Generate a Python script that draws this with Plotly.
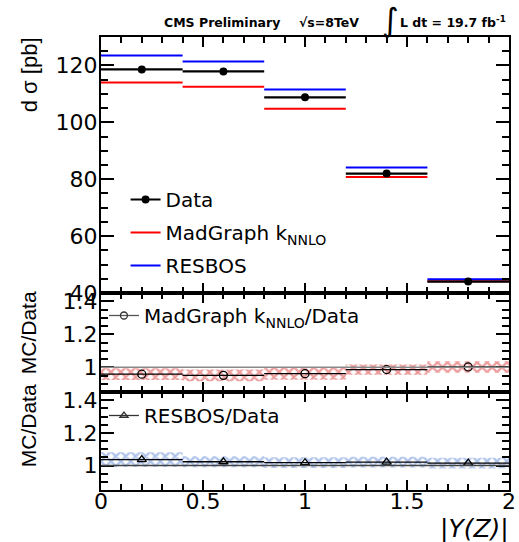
import plotly.graph_objects as go

# ---------------- data ----------------
bin_edges = [0.0, 0.4, 0.8, 1.2, 1.6, 2.0]
data_xsec = [118.6, 117.9, 108.8, 82.0, 44.0]
madgraph_xsec = [114.0, 112.5, 104.8, 80.8, 44.1]
resbos_xsec = [123.5, 121.4, 111.5, 84.1, 44.8]

ratio_madgraph = [0.958, 0.951, 0.961, 0.986, 1.002]
ratio_madgraph_unc = [0.036, 0.036, 0.036, 0.031, 0.035]
ratio_resbos = [1.036, 1.023, 1.017, 1.021, 1.015]
ratio_resbos_unc = [0.045, 0.033, 0.033, 0.033, 0.033]
reference_level = 1.0

x_ticks = [0, 0.5, 1, 1.5, 2]
x_ticktext = ["0", "0.5", "1", "1.5", "2"]
main_ticks = [40, 60, 80, 100, 120]
ratio_ticks = [1, 1.2, 1.4]
ratio_ticktext = ["1", "1.2", "1.4"]

# ---------------- helpers ----------------
lo_edges = bin_edges[:-1]
hi_edges = bin_edges[1:]
centers = [(a + b) / 2 for a, b in zip(lo_edges, hi_edges)]
half_w = [(b - a) / 2 for a, b in zip(lo_edges, hi_edges)]
widths = [(b - a) for a, b in zip(lo_edges, hi_edges)]


def steps(vals):
    xs, ys = [], []
    for lo, hi, v in zip(lo_edges, hi_edges, vals):
        xs += [lo, hi, None]
        ys += [v, v, None]
    return xs, ys


W, H = 519, 542
L, R, T, B = 101, 3, 37, 52
PW, PH = W - L - R, H - T - B


def px(x):
    return (x - L) / PW


def py(y):
    return (H - B - y) / PH


main_lo = py(293)
r1_lo = py(392)

FONT = "DejaVu Sans, Liberation Sans, Arial"

fig = go.Figure()

# ---------------- main panel ----------------
xs, ys = steps(madgraph_xsec)
fig.add_trace(go.Scatter(x=xs, y=ys, mode="lines", line=dict(color="#ff0000", width=2),
                         name="MadGraph k<sub>NNLO</sub>", legend="legend", legendgroup="mg",
                         legendrank=2, xaxis="x", yaxis="y", hoverinfo="skip"))
xs, ys = steps(resbos_xsec)
fig.add_trace(go.Scatter(x=xs, y=ys, mode="lines", line=dict(color="#0000ff", width=2),
                         name="RESBOS", legend="legend", legendgroup="rb",
                         legendrank=3, xaxis="x", yaxis="y", hoverinfo="skip"))
fig.add_trace(go.Scatter(x=centers, y=data_xsec, mode="markers",
                         marker=dict(color="black", size=8),
                         error_x=dict(type="data", array=half_w, width=0, thickness=2.2, color="black"),
                         showlegend=False, xaxis="x", yaxis="y"))
fig.add_trace(go.Scatter(x=[None], y=[None], mode="lines+markers",
                         line=dict(color="black", width=2), marker=dict(color="black", size=8),
                         name="Data", legend="legend", legendgroup="data", legendrank=1,
                         xaxis="x", yaxis="y"))

# ---------------- ratio panel 1 ----------------
fig.add_trace(go.Bar(x=centers, y=[2 * u for u in ratio_madgraph_unc],
                     base=[r - u for r, u in zip(ratio_madgraph, ratio_madgraph_unc)],
                     width=widths,
                     marker=dict(color="rgba(0,0,0,0)", line=dict(width=0),
                                 pattern=dict(shape="x", fgcolor="#d93a3a", size=7,
                                              solidity=0.55, fillmode="overlay")),
                     showlegend=False, xaxis="x2", yaxis="y2", hoverinfo="skip"))
fig.add_trace(go.Scatter(x=centers, y=ratio_madgraph, mode="markers",
                         marker=dict(symbol="circle-open", color="black", size=8, line=dict(width=1.3)),
                         error_x=dict(type="data", array=half_w, width=0, thickness=1.3, color="black"),
                         showlegend=False, xaxis="x2", yaxis="y2"))
fig.add_trace(go.Scatter(x=[None], y=[None], mode="lines+markers",
                         line=dict(color="#555555", width=1.3),
                         marker=dict(symbol="circle-open", color="#333333", size=7, line=dict(width=1.3)),
                         name="MadGraph k<sub>NNLO</sub>/Data", legend="legend2",
                         xaxis="x2", yaxis="y2"))

# ---------------- ratio panel 2 ----------------
fig.add_trace(go.Bar(x=centers, y=[2 * u for u in ratio_resbos_unc],
                     base=[r - u for r, u in zip(ratio_resbos, ratio_resbos_unc)],
                     width=widths,
                     marker=dict(color="rgba(0,0,0,0)", line=dict(width=0),
                                 pattern=dict(shape="x", fgcolor="#5f88d6", size=7,
                                              solidity=0.55, fillmode="overlay")),
                     showlegend=False, xaxis="x3", yaxis="y3", hoverinfo="skip"))
fig.add_trace(go.Scatter(x=centers, y=ratio_resbos, mode="markers",
                         marker=dict(symbol="triangle-up-open", color="black", size=8, line=dict(width=1.3)),
                         error_x=dict(type="data", array=half_w, width=0, thickness=1.3, color="black"),
                         showlegend=False, xaxis="x3", yaxis="y3"))
fig.add_trace(go.Scatter(x=[None], y=[None], mode="lines+markers",
                         line=dict(color="#333333", width=1.3),
                         marker=dict(symbol="triangle-up-open", color="#333333", size=7, line=dict(width=1.3)),
                         name="RESBOS/Data", legend="legend3",
                         xaxis="x3", yaxis="y3"))

# ---------------- axes ----------------
xcommon = dict(range=[0, 2], tickvals=x_ticks, ticktext=x_ticktext, ticks="inside",
               ticklen=10, tickwidth=1.5, tickcolor="black",
               minor=dict(dtick=0.1, ticks="inside", ticklen=6, tickwidth=1.5, tickcolor="black"),
               showline=True, linewidth=2, linecolor="black", mirror="ticks",
               showgrid=False, zeroline=False, fixedrange=True, ticklabeloverflow="allow",
               ticklabelstandoff=-9,
               tickfont=dict(family=FONT, size=22, color="black"))
ycommon = dict(ticks="inside", tickwidth=1.5, tickcolor="black",
               showline=True, linewidth=2, linecolor="black", mirror="ticks",
               showgrid=False, zeroline=False, fixedrange=True, ticklabelstandoff=-3,
               tickfont=dict(family=FONT, size=22, color="black"))

layout = dict(
    width=W, height=H, margin=dict(l=L, r=R, t=T, b=B),
    paper_bgcolor="white", plot_bgcolor="white", barmode="overlay",
    xaxis=dict(xcommon, anchor="y", showticklabels=False),
    xaxis2=dict(xcommon, anchor="y2", matches="x", showticklabels=False),
    xaxis3=dict(xcommon, anchor="y3", matches="x", showticklabels=True),
    yaxis=dict(ycommon, domain=[main_lo, 1], range=[40, 130], tickvals=main_ticks,
               ticklen=13, minor=dict(dtick=5, ticks="inside", ticklen=7, tickwidth=1.5, tickcolor="black")),
    yaxis2=dict(ycommon, domain=[r1_lo, main_lo], range=[0.85, 1.45], tickvals=ratio_ticks,
                ticktext=ratio_ticktext, ticklen=13,
                minor=dict(dtick=0.05, ticks="inside", ticklen=7, tickwidth=1.5, tickcolor="black")),
    yaxis3=dict(ycommon, domain=[0, r1_lo], range=[0.85, 1.45], tickvals=ratio_ticks,
                ticktext=ratio_ticktext, ticklen=13,
                minor=dict(dtick=0.05, ticks="inside", ticklen=7, tickwidth=1.5, tickcolor="black")),
    legend=dict(x=px(126), y=py(180), xanchor="left", yanchor="top", bgcolor="rgba(0,0,0,0)",
                font=dict(family=FONT, size=20, color="black"), traceorder="grouped",
                tracegroupgap=4, itemclick=False),
    legend2=dict(x=px(104), y=py(296), xanchor="left", yanchor="top", bgcolor="rgba(0,0,0,0)",
                 font=dict(family=FONT, size=20, color="black"), itemclick=False),
    legend3=dict(x=px(104), y=py(396), xanchor="left", yanchor="top", bgcolor="rgba(0,0,0,0)",
                 font=dict(family=FONT, size=20, color="black"), itemclick=False),
    showlegend=True,
)
fig.update_layout(**layout)

# reference line at 1 in both ratio panels
for ya, xa, col in [("y2", "x2", "#888888"), ("y3", "x3", "#444444")]:
    fig.add_shape(type="line", xref=xa + " domain", yref=ya, x0=0, x1=1,
                  y0=reference_level, y1=reference_level, line=dict(color=col, width=1.5), layer="above")

# ---------------- texts ----------------
ann = []
ann.append(dict(text="<b>CMS Preliminary</b>", x=px(163), y=py(22), xanchor="left", yanchor="middle",
                font=dict(family=FONT, size=12.5, color="black")))
ann.append(dict(text="<b>√s=8TeV</b>", x=px(300), y=py(22), xanchor="left", yanchor="middle",
                font=dict(family=FONT, size=12.5, color="black")))
ann.append(dict(text="∫", x=px(395), y=py(20), xanchor="center", yanchor="middle",
                font=dict(family=FONT, size=32, color="black")))
ann.append(dict(text="<b>L dt = 19.7 fb<sup>-1</sup></b>", x=px(403), y=py(22), xanchor="left",
                yanchor="middle", font=dict(family=FONT, size=12.5, color="black")))
ann.append(dict(text="d σ [pb]", x=px(28), y=py(75), xanchor="center", yanchor="middle",
                textangle=-90, font=dict(family="Liberation Sans, Arial", size=22, color="black")))
ann.append(dict(text="MC/Data", x=px(27), y=py(333), xanchor="center", yanchor="middle",
                textangle=-90, font=dict(family="Liberation Sans, Arial", size=21, color="black")))
ann.append(dict(text="MC/Data", x=px(27), y=py(426), xanchor="center", yanchor="middle",
                textangle=-90, font=dict(family="Liberation Sans, Arial", size=21, color="black")))
ann.append(dict(text="<i>|Y(Z)|</i>", x=px(518), y=py(528), xanchor="right", yanchor="middle",
                font=dict(family=FONT, size=25, color="black")))
for a in ann:
    a.update(xref="paper", yref="paper", showarrow=False)
fig.update_layout(annotations=ann)

fig.write_html("out.html")
